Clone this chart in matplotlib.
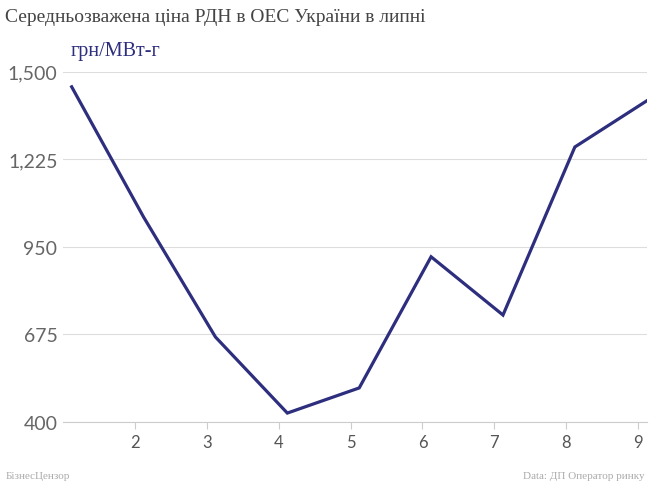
import matplotlib
matplotlib.use("Agg")
import matplotlib.pyplot as plt

days = [1.12, 2.12, 3.12, 4.12, 5.12, 6.12, 7.12, 8.12, 9.12]
prices = [1453, 1044, 667, 428, 507, 919, 736, 1264, 1409]
xticks = [2, 3, 4, 5, 6, 7, 8, 9]
yticks = [400, 675, 950, 1225, 1500]

fig = plt.figure(figsize=(6.5, 4.89), dpi=100)
ax = fig.add_axes([0.097, 0.135, 0.898, 0.716])

ax.plot(days, prices, color="#2e2e7e", lw=2.3, solid_joinstyle="miter")
ax.set_xlim(1.0, 9.12)
ax.set_ylim(400, 1500)
ax.set_xticks(xticks)
ax.set_yticks(yticks)
ax.set_yticklabels(["400", "675", "950", "1,225", "1,500"])
ax.grid(axis="y", color="#dddddd", lw=0.8)
ax.grid(axis="x", visible=False)
for s in ["top", "right", "left"]:
    ax.spines[s].set_visible(False)
ax.spines["bottom"].set_color("#cccccc")
ax.tick_params(axis="y", length=0, labelsize=14, labelcolor="#666666", pad=4)
ax.tick_params(axis="x", length=5, color="#cccccc", labelsize=12, labelcolor="#555555")
for t in ax.get_yticklabels() + ax.get_xticklabels():
    t.set_family("Lato")
ax.set_axisbelow(True)

fig.text(0.008, 0.955, "Середньозважена ціна РДН в ОЕС України в липні",
         fontsize=14, family="Liberation Serif", color="#444444")
fig.text(0.108, 0.885, "грн/МВт-г", fontsize=14.5, family="Liberation Serif", color="#2e2e7e")
fig.text(0.008, 0.02, "БізнесЦензор", fontsize=8, family="Liberation Serif", color="#aaaaaa")
fig.text(0.992, 0.02, "Data: ДП Оператор ринку", fontsize=8, family="Liberation Serif",
         color="#aaaaaa", ha="right")

fig.savefig("out.png", dpi=100)
